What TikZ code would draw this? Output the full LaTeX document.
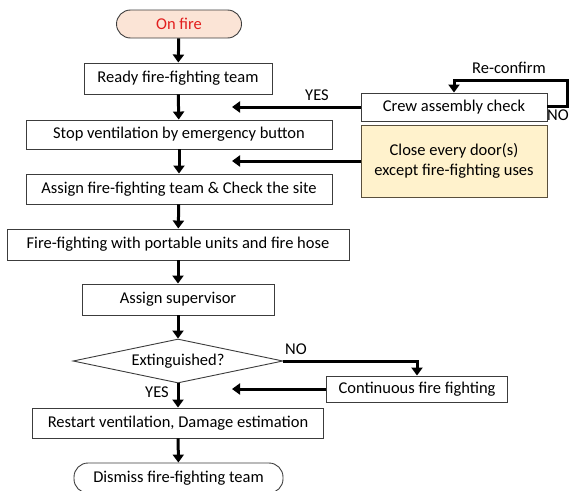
\documentclass[tikz,border=0pt]{standalone}
\usepackage{fontspec}
\setmainfont{Carlito}
\usetikzlibrary{shapes.geometric,arrows.meta}

\definecolor{firefill}{RGB}{251,228,214}
\definecolor{firetext}{RGB}{226,30,30}
\definecolor{notefill}{RGB}{255,242,204}
\definecolor{noteline}{RGB}{90,80,60}
\definecolor{boxline}{RGB}{60,60,60}

\tikzset{
  stepbox/.style={draw=boxline, line width=0.9pt, fill=white, inner sep=0pt, align=center, font=\fontsize{16.5}{20}\selectfont},
  endbox/.style={stepbox, rounded corners=14pt},
  notebox/.style={stepbox, draw=noteline, fill=notefill},
  askbox/.style={stepbox, diamond, aspect=4.6, inner sep=0pt},
  flow/.style={line width=3pt, -{Triangle[length=8pt,width=11pt]}},
  tag/.style={font=\fontsize{16.5}{20}\selectfont}
}

\begin{document}
\begin{tikzpicture}[x=1pt,y=1pt]

	\useasboundingbox (0,0) rectangle (570,-490);

	% main column
	\node[endbox, fill=firefill, text=firetext, minimum width=125, minimum height=28] (fire) at (179,-24) {On fire};
	\node[stepbox, minimum width=188, minimum height=31] (ready) at (178,-78.5) {Ready fire-fighting team};
	\node[stepbox, minimum width=306, minimum height=29] (stop) at (179,-134.5) {Stop ventilation by emergency button};
	\node[stepbox, minimum width=306, minimum height=30] (assign) at (179,-189) {Assign fire-fighting team \& Check the site};
	\node[stepbox, minimum width=342, minimum height=31] (fight) at (178,-244.5) {Fire-fighting with portable units and fire hose};
	\node[stepbox, minimum width=192, minimum height=31] (superv) at (178,-299.5) {Assign supervisor};
	\node[askbox, minimum width=210, minimum height=44] (ext) at (178,-361) {Extinguished?};
	\node[stepbox, minimum width=291, minimum height=30] (restart) at (178,-423) {Restart ventilation, Damage estimation};
	\node[endbox, minimum width=209, minimum height=30] (dismiss) at (178.5,-478) {Dismiss fire-fighting team};

	% side column
	\node[stepbox, minimum width=186, minimum height=28] (crew) at (454,-107) {Crew assembly check};
	\node[notebox, minimum width=186, minimum height=72] (close) at (454,-161) {Close every door(s)\\except fire-fighting uses};
	\node[stepbox, minimum width=181, minimum height=26] (cont) at (417,-389) {Continuous fire fighting};

	\coordinate (yestip) at (232,-107);
	\coordinate (closetip) at (232,-161);
	\coordinate (conttip) at (232,-389);
	\coordinate (loopa) at (567,-106);
	\coordinate (loopb) at (567,-80);
	\coordinate (loopc) at (454,-80);
	\coordinate (noturn) at (417,-361);

	\draw[flow] (fire) -- (ready);
	\draw[flow] (ready) -- (stop);
	\draw[flow] (stop) -- (assign);
	\draw[flow] (assign) -- (fight);
	\draw[flow] (fight) -- (superv);
	\draw[flow] (superv) -- (ext);
	\draw[flow] (ext) -- (restart);
	\draw[flow] (restart) -- (dismiss);

	\draw[flow] (crew.west) -- (yestip);
	\draw[flow] (close.west) -- (closetip);
	\draw[flow] (cont.west) -- (conttip);
	\draw[flow] (crew.east |- loopa) -- (loopa) -- (loopb) -- (loopc) -- (crew.north);
	\draw[flow] (ext.east) -- (noturn) -- (cont.north);

	\node[tag] (reconf) at (509,-68) {Re-confirm};
	\node[tag] (yesa) at (317,-95) {YES};
	\node[tag, anchor=east, inner sep=1pt] (noa) at (570,-115) {NO};
	\node[tag] (nob) at (296,-349) {NO};
	\node[tag] (yesb) at (157,-392) {YES};

\end{tikzpicture}
\end{document}
